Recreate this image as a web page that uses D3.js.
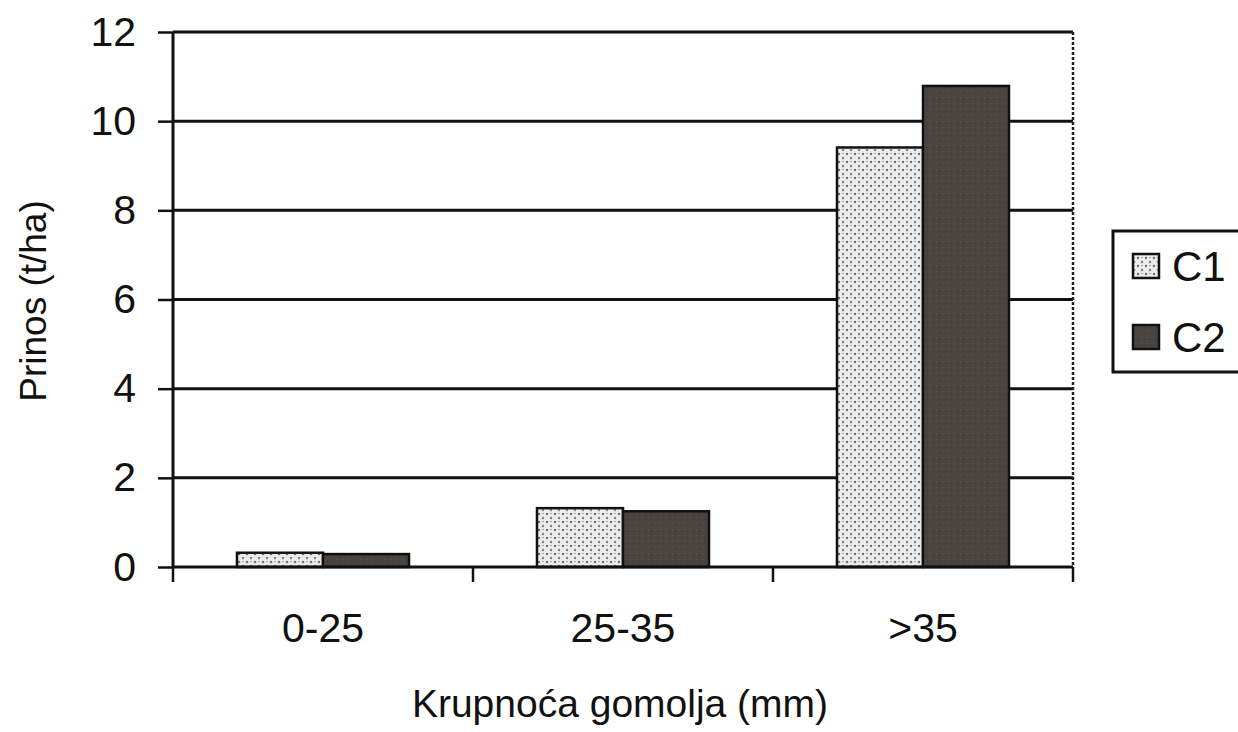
<!DOCTYPE html>
<html>
<head>
<meta charset="utf-8">
<script src="https://cdn.jsdelivr.net/npm/d3@7"></script>
<style>
  html, body { margin: 0; padding: 0; background: #fff; }
  svg { display: block; }
  text { font-family: "Liberation Sans", Arial, sans-serif; fill: #111; }
</style>
</head>
<body>
<svg id="chart" width="1238" height="732"></svg>
<script>
const categories = ["0-25", "25-35", ">35"];
const seriesNames = ["C1", "C2"];
const c1Values = [0.32, 1.32, 9.41];
const c2Values = [0.29, 1.25, 10.79];
const yTicks = [0, 2, 4, 6, 8, 10, 12];
const xTitle = "Krupnoća gomolja (mm)";
const yTitle = "Prinos (t/ha)";

(function () {
const svg = d3.select("#chart");
const pLeft = 173, pRight = 1073, pTop = 32, pBottom = 567;

const defs = svg.append("defs");
const p1 = defs.append("pattern").attr("id", "dots").attr("patternUnits", "userSpaceOnUse")
  .attr("width", 8).attr("height", 8);
p1.append("rect").attr("width", 8).attr("height", 8).attr("fill", "#ebebeb");
p1.append("circle").attr("cx", 2).attr("cy", 2).attr("r", 1.2).attr("fill", "#6e6e6e");
p1.append("circle").attr("cx", 6).attr("cy", 6).attr("r", 1.2).attr("fill", "#808080");
p1.append("rect").attr("x", 5).attr("y", 1).attr("width", 2).attr("height", 1).attr("fill", "#a5a5a5");
const p2 = defs.append("pattern").attr("id", "dark").attr("patternUnits", "userSpaceOnUse")
  .attr("width", 6).attr("height", 6);
p2.append("rect").attr("width", 6).attr("height", 6).attr("fill", "#4a4440");
p2.append("rect").attr("x", 1).attr("y", 1).attr("width", 1).attr("height", 1).attr("fill", "#5c5550");
p2.append("rect").attr("x", 4).attr("y", 3).attr("width", 1).attr("height", 1).attr("fill", "#3a3532");

const x = d3.scaleBand().domain(categories).range([pLeft, pRight]).padding(0);
const xSub = d3.scaleBand().domain(seriesNames).range([0, x.bandwidth()])
  .paddingInner(0).paddingOuter(0.744);
const y = d3.scaleLinear().domain([0, 12]).range([pBottom, pTop]);

// gridlines
svg.append("g").selectAll("line").data(yTicks.filter(d => d > 0)).join("line")
  .attr("x1", pLeft).attr("x2", pRight)
  .attr("y1", d => y(d)).attr("y2", d => y(d))
  .attr("stroke", "#111").attr("stroke-width", 3);

// right border (dotted)
svg.append("line").attr("x1", pRight).attr("x2", pRight).attr("y1", pTop).attr("y2", pBottom)
  .attr("stroke", "#222").attr("stroke-width", 2.5).attr("stroke-dasharray", "3,2");

// bars
const data = categories.map((c, i) => ({ cat: c, vals: [c1Values[i], c2Values[i]] }));
const groups = svg.append("g").selectAll("g").data(data).join("g")
  .attr("transform", d => `translate(${x(d.cat)},0)`);
groups.selectAll("rect").data(d => d.vals.map((v, j) => ({ s: seriesNames[j], v }))).join("rect")
  .attr("x", d => xSub(d.s))
  .attr("width", xSub.bandwidth())
  .attr("y", d => y(d.v))
  .attr("height", d => y(0) - y(d.v))
  .attr("fill", d => d.s === "C1" ? "url(#dots)" : "url(#dark)")
  .attr("stroke", "#111").attr("stroke-width", 2.5);

// y axis
const yAxis = d3.axisLeft(y).tickValues(yTicks).tickSize(15).tickPadding(22).tickFormat(d3.format("d"));
const gy = svg.append("g").attr("transform", `translate(${pLeft},0)`).call(yAxis);
gy.select(".domain").attr("stroke", "#111").attr("stroke-width", 3).attr("d", `M0,${pTop}V${pBottom}`);
gy.selectAll(".tick line").attr("stroke", "#111").attr("stroke-width", 2.5);
gy.selectAll(".tick text").style("font-size", "41px").attr("fill", "#111")
  .style("font-family", "'Liberation Sans', Arial, sans-serif");

// x axis
const xAxis = d3.axisBottom(x).tickSize(0).tickPadding(46);
const gx = svg.append("g").attr("transform", `translate(0,${pBottom})`).call(xAxis);
gx.select(".domain").attr("stroke", "#111").attr("stroke-width", 3).attr("d", `M${pLeft},0H${pRight}`);
gx.selectAll(".tick text").style("font-size", "41px").attr("fill", "#111")
  .style("font-family", "'Liberation Sans', Arial, sans-serif");
// boundary ticks
const bounds = categories.map(c => x(c)).concat([pRight]);
gx.append("g").selectAll("line").data(bounds).join("line")
  .attr("x1", d => d).attr("x2", d => d).attr("y1", 0).attr("y2", 15)
  .attr("stroke", "#111").attr("stroke-width", 2.5);

// titles
svg.append("text").attr("x", 620).attr("y", 717).attr("text-anchor", "middle")
  .style("font-size", "39px").text(xTitle);
svg.append("text").attr("transform", "translate(46,301) rotate(-90)").attr("text-anchor", "middle")
  .style("font-size", "37px").text(yTitle);

// legend
const lg = svg.append("g");
lg.append("rect").attr("x", 1113).attr("y", 231).attr("width", 140).attr("height", 141)
  .attr("fill", "#fff").attr("stroke", "#111").attr("stroke-width", 3);
const legY = d3.scalePoint().domain(seriesNames).range([266, 337]);
lg.selectAll("rect.sw").data(seriesNames).join("rect").attr("class", "sw")
  .attr("x", 1133).attr("width", 26).attr("y", d => legY(d) - 12).attr("height", 24)
  .attr("fill", d => d === "C1" ? "url(#dots)" : "url(#dark)")
  .attr("stroke", "#111").attr("stroke-width", 2.5);
lg.selectAll("text").data(seriesNames).join("text")
  .attr("x", 1172).attr("y", d => legY(d)).attr("dy", "0.36em")
  .style("font-size", "42px").text(d => d);
})();
</script>
</body>
</html>
